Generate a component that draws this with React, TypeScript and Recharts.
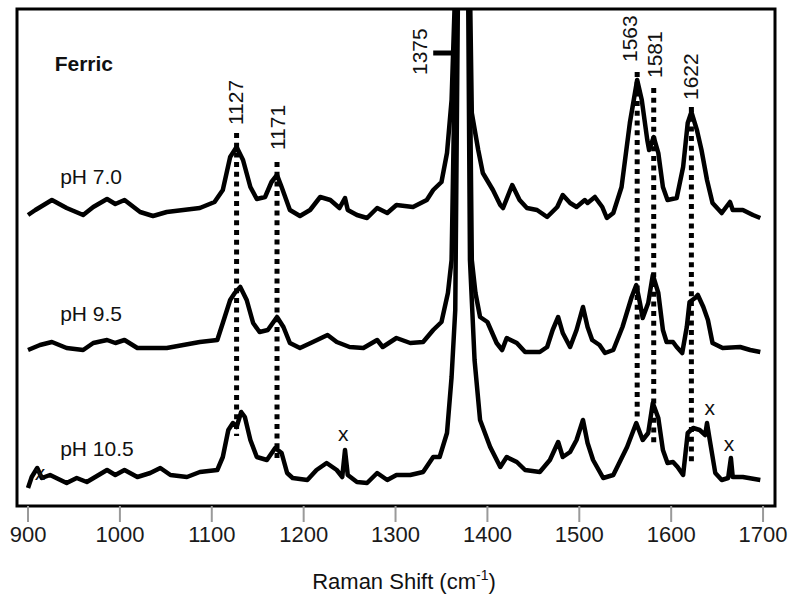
import { LineChart, Line, XAxis, YAxis, ReferenceArea, ReferenceLine, ReferenceDot } from "recharts"

// Raman shift (cm-1) and intensity (arb. units, offset per trace)
const shift70 = [900, 908, 926, 942, 960, 971, 986, 995, 1005, 1022, 1036, 1051, 1087, 1103, 1112, 1120, 1127, 1134, 1142, 1149, 1158, 1165, 1171, 1176, 1185, 1196, 1207, 1218, 1229, 1239, 1245, 1248, 1258, 1269, 1280, 1291, 1301, 1319, 1334, 1341, 1350, 1356, 1361, 1365, 1373, 1381, 1383, 1390, 1395, 1406, 1414, 1417, 1427, 1435, 1443, 1454, 1465, 1476, 1482, 1490, 1497, 1506, 1509, 1517, 1525, 1530, 1537, 1546, 1555, 1563, 1568, 1574, 1576, 1581, 1586, 1591, 1596, 1606, 1613, 1618, 1622, 1628, 1633, 1639, 1645, 1655, 1664, 1667, 1678, 1689, 1697]
const int70 = [291, 296, 306, 298, 291, 299, 307, 302, 306, 294, 290, 294, 298, 304, 316, 349, 359, 346, 319, 307, 309, 324, 331, 319, 296, 290, 296, 309, 306, 298, 308, 296, 291, 288, 298, 293, 301, 299, 306, 316, 324, 353, 406, 520, 900, 520, 393, 356, 333, 316, 301, 298, 321, 306, 298, 296, 289, 299, 311, 303, 299, 306, 303, 309, 299, 288, 293, 319, 383, 426, 406, 366, 356, 369, 353, 319, 306, 308, 339, 383, 394, 376, 356, 326, 303, 293, 304, 296, 296, 291, 288]

const shift95 = [900, 913, 926, 942, 960, 971, 986, 995, 1005, 1019, 1051, 1087, 1106, 1112, 1120, 1125, 1131, 1138, 1145, 1152, 1161, 1171, 1178, 1185, 1196, 1210, 1226, 1236, 1250, 1265, 1280, 1286, 1301, 1316, 1330, 1341, 1350, 1357, 1361, 1366, 1373, 1380, 1383, 1387, 1392, 1400, 1410, 1416, 1421, 1432, 1441, 1457, 1465, 1471, 1477, 1482, 1490, 1497, 1504, 1509, 1514, 1522, 1528, 1537, 1547, 1557, 1562, 1566, 1569, 1575, 1580, 1586, 1591, 1595, 1602, 1606, 1612, 1617, 1620, 1626, 1629, 1635, 1640, 1645, 1656, 1675, 1686, 1697]
const int95 = [156, 161, 164, 158, 156, 163, 166, 163, 166, 158, 158, 164, 166, 183, 206, 213, 219, 206, 183, 174, 176, 189, 179, 163, 158, 164, 171, 164, 159, 158, 166, 159, 168, 163, 164, 176, 184, 213, 246, 520, 900, 520, 246, 213, 189, 184, 163, 156, 168, 163, 154, 154, 159, 176, 189, 173, 159, 176, 199, 179, 166, 161, 153, 156, 179, 209, 221, 203, 188, 203, 231, 213, 176, 164, 164, 159, 153, 179, 204, 208, 211, 199, 186, 163, 158, 159, 156, 154]

const shift105 = [900, 904, 910, 915, 924, 942, 953, 964, 986, 995, 1005, 1019, 1033, 1044, 1055, 1073, 1087, 1106, 1112, 1118, 1123, 1127, 1132, 1136, 1142, 1149, 1160, 1169, 1176, 1182, 1188, 1204, 1214, 1225, 1236, 1242, 1245, 1248, 1258, 1269, 1280, 1291, 1301, 1316, 1330, 1341, 1348, 1356, 1361, 1365, 1368, 1373, 1379, 1381, 1386, 1392, 1403, 1414, 1421, 1432, 1441, 1457, 1468, 1477, 1482, 1490, 1497, 1504, 1509, 1515, 1526, 1537, 1552, 1562, 1569, 1575, 1580, 1586, 1591, 1596, 1602, 1607, 1613, 1618, 1624, 1631, 1637, 1639, 1642, 1648, 1655, 1662, 1665, 1667, 1678, 1697]
const int105 = [18, 29, 38, 28, 31, 23, 28, 24, 36, 31, 36, 29, 33, 38, 31, 29, 34, 36, 49, 76, 83, 79, 94, 89, 66, 49, 46, 58, 53, 33, 28, 26, 36, 43, 36, 29, 56, 31, 24, 23, 33, 26, 31, 31, 34, 49, 49, 73, 129, 196, 520, 900, 520, 246, 146, 86, 59, 39, 49, 44, 36, 34, 46, 64, 49, 54, 66, 86, 63, 46, 28, 31, 59, 83, 66, 73, 103, 88, 56, 43, 44, 39, 31, 73, 78, 76, 71, 83, 66, 33, 26, 28, 48, 29, 29, 26]

const xTicks = [900, 1000, 1100, 1200, 1300, 1400, 1500, 1600, 1700]
const traceLabels = ["pH 7.0", "pH 9.5", "pH 10.5"]
const peaks = [1127, 1171, 1563, 1581, 1622]
const mainPeak = 1375
const artifactShifts = [913, 1243, 1642, 1663]

// annotation placement (chart units)
const peakLineTop = [373, 344, 434, 418, 399]
const peakLineBottom = [70, 46, 89, 61, 43]
const peakLabelX = [1126, 1172, 1555, 1582, 1621]
const peakLabelY = [381, 356, 444, 428, 406]
const traceLabelY = [330, 193, 58]
const artifactY = [34, 73, 99, 63]

const toRows = (xs: number[], ys: number[]) => xs.map((shift, i) => ({ shift, intensity: ys[i] }))

const FONT = "'Liberation Sans', Arial, sans-serif"

const VText = (value: string) => (p: any) => (
  <text
    x={p.cx}
    y={p.cy}
    transform={`rotate(-90 ${p.cx} ${p.cy})`}
    textAnchor="start"
    dominantBaseline="central"
    fontSize={21}
    fontFamily={FONT}
    fill="#111"
  >
    {value}
  </text>
)

const HText = (value: string, opts: { bold?: boolean; anchor?: string } = {}) => (p: any) => (
  <text
    x={p.cx}
    y={p.cy}
    textAnchor={opts.anchor || "start"}
    dominantBaseline="central"
    fontSize={21}
    fontWeight={opts.bold ? "bold" : "normal"}
    fontFamily={FONT}
    fill="#111"
  >
    {value}
  </text>
)

const AxisTitle = (props: any) => {
  const { x, y, width } = props.viewBox
  return (
    <text x={x + width / 2 + 8} y={y + 83} textAnchor="middle" fontSize={22} fontFamily={FONT} fill="#111">
      Raman Shift (cm
      <tspan dy={-9} fontSize={14}>-1</tspan>
      <tspan dy={9}>)</tspan>
    </text>
  )
}

export default function App() {
  const traces = [toRows(shift70, int70), toRows(shift95, int95), toRows(shift105, int105)]

  return (
    <div style={{ position: "absolute", left: 0, top: 0, background: "#fff" }}>
      <LineChart width={800} height={602} margin={{ top: 9, right: 25, left: 17, bottom: 0 }}>
        <XAxis
          dataKey="shift"
          type="number"
          domain={[888, 1713]}
          ticks={xTicks}
          axisLine={false}
          tickSize={16}
          tickMargin={4}
          tickLine={{ stroke: "#9a9a9a", strokeWidth: 2 }}
          tick={{ fontSize: 22, fill: "#1a1a1a", fontFamily: FONT }}
          height={96}
          label={<AxisTitle />}
        />
        <YAxis hide type="number" domain={[0, 497]} allowDataOverflow />

        {peaks.map((s, i) => (
          <ReferenceLine
            key={`pl${s}`}
            segment={[{ x: s, y: peakLineTop[i] }, { x: s, y: peakLineBottom[i] }]}
            stroke="#000"
            strokeWidth={5}
            strokeDasharray="5 4.7"
          />
        ))}
        <ReferenceLine
          segment={[{ x: 1341, y: 453 }, { x: 1365, y: 453 }]}
          stroke="#000"
          strokeWidth={5}
        />

        {traces.map((rows, i) => (
          <Line
            key={traceLabels[i]}
            data={rows}
            dataKey="intensity"
            stroke="#000"
            strokeWidth={4.5}
            strokeLinejoin="round"
            dot={false}
            isAnimationActive={false}
          />
        ))}

        <ReferenceArea x1={888} x2={1713} y1={0} y2={497} fill="none" stroke="#000" strokeWidth={3} />

        {peaks.map((s, i) => (
          <ReferenceDot key={`lab${s}`} x={peakLabelX[i]} y={peakLabelY[i]} r={0} shape={VText(String(s))} />
        ))}
        <ReferenceDot x={1326} y={431} r={0} shape={VText(String(mainPeak))} />

        <ReferenceDot x={929} y={443} r={0} shape={HText("Ferric", { bold: true })} />
        {traceLabels.map((t, i) => (
          <ReferenceDot key={`tl${t}`} x={935} y={traceLabelY[i]} r={0} shape={HText(t)} />
        ))}
        {artifactShifts.map((s, i) => (
          <ReferenceDot key={`x${s}`} x={s} y={artifactY[i]} r={0} shape={HText("x", { anchor: "middle" })} />
        ))}
      </LineChart>
    </div>
  )
}
